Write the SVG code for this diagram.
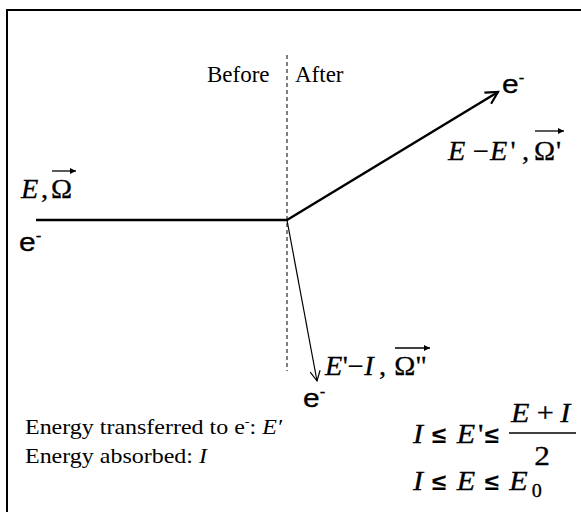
<svg xmlns="http://www.w3.org/2000/svg" width="581" height="512" viewBox="0 0 581 512">
  <style>
    .serif { font-family: "Liberation Serif", "Times New Roman", serif; fill: #000; }
    .math { font-family: "Liberation Serif", "Times New Roman", serif; font-style: italic; fill: #000; stroke: #000; stroke-width: 0.3; }
    .up { font-style: normal; }
    .rel { font-family: "Liberation Sans", Arial, sans-serif; font-style: normal; font-weight: bold; stroke-width: 0.1; }
    .sans { font-family: "Liberation Sans", Arial, sans-serif; fill: #000; stroke: #000; stroke-width: 0.3; }
    .line { stroke: #000; fill: none; }
  </style>
  <defs>
    <marker id="headBig" markerUnits="userSpaceOnUse" markerWidth="16" markerHeight="16" refX="13" refY="8" orient="auto">
      <path d="M1,1.5 L13,8 L1,14.5" fill="none" stroke="#000" stroke-width="2.2"/>
    </marker>
    <marker id="headSmall" markerUnits="userSpaceOnUse" markerWidth="14" markerHeight="14" refX="11" refY="7" orient="auto">
      <path d="M1,2 L11,7 L1,12" fill="none" stroke="#000" stroke-width="1.2"/>
    </marker>
    <marker id="vec" markerUnits="userSpaceOnUse" markerWidth="8" markerHeight="8" refX="6" refY="4" orient="auto">
      <path d="M0,1 L6,4 L0,7 Z" fill="#000"/>
    </marker>
  </defs>

  <g id="frame">
    <line class="line" x1="6" y1="10" x2="581" y2="10" stroke-width="2"/>
    <line class="line" x1="7" y1="9" x2="7" y2="512" stroke-width="2"/>
  </g>

  <g id="divider">
    <line class="line" x1="287" y1="55" x2="287" y2="371" stroke-width="1" stroke-dasharray="4,3"/>
    <text class="serif" x="207" y="82" font-size="23">Before</text>
    <text class="serif" x="295" y="82" font-size="23">After</text>
  </g>

  <g id="connectors">
    <line class="line" x1="36" y1="220" x2="288" y2="220" stroke-width="2.5"/>
    <line class="line" x1="287" y1="220" x2="498" y2="92" stroke-width="2.5" marker-end="url(#headBig)"/>
    <line class="line" x1="287" y1="220" x2="317" y2="381" stroke-width="1.2" marker-end="url(#headSmall)"/>
  </g>

  <g id="incident">
    <g transform="translate(21,198) scale(1.05,1)">
      <text class="math" x="0" y="0" font-size="27">E<tspan class="up" x="19">,</tspan><tspan class="up" x="28.6">Ω</tspan></text>
    </g>
    <line class="line" x1="52" y1="171" x2="76" y2="171" stroke-width="1.3" marker-end="url(#vec)"/>
    <g transform="translate(19,251) scale(1.2,1)">
      <text class="sans" x="0" y="0" font-size="25">e<tspan font-size="14" dy="-10">-</tspan></text>
    </g>
  </g>

  <g id="scattered">
    <g transform="translate(502,93) scale(1.2,1)">
      <text class="sans" x="0" y="0" font-size="25">e<tspan font-size="14" dy="-10">-</tspan></text>
    </g>
    <g transform="translate(448,160) scale(1.05,1)">
      <text class="math" x="0" y="0" font-size="27">E<tspan class="up" x="23.5">−</tspan><tspan x="40">E</tspan><tspan class="up" x="59.5">'</tspan><tspan class="up" x="70.5">,</tspan><tspan class="up" x="81.9">Ω</tspan><tspan class="up" x="102.9">'</tspan></text>
    </g>
    <line class="line" x1="535" y1="131" x2="564" y2="131" stroke-width="1.3" marker-end="url(#vec)"/>
  </g>

  <g id="ejected">
    <g transform="translate(325,375) scale(1.05,1)">
      <text class="math" x="0" y="0" font-size="27">E<tspan class="up" x="17">'</tspan><tspan class="up" x="21.5">−</tspan><tspan x="37.5">I</tspan><tspan class="up" x="51.5">,</tspan><tspan class="up" x="66">Ω</tspan><tspan class="up" x="86">"</tspan></text>
    </g>
    <line class="line" x1="395" y1="348" x2="430" y2="348" stroke-width="1.3" marker-end="url(#vec)"/>
    <g transform="translate(303,407) scale(1.2,1)">
      <text class="sans" x="0" y="0" font-size="25">e<tspan font-size="14" dy="-10">-</tspan></text>
    </g>
  </g>

  <g id="legend">
    <g transform="translate(25,434) scale(1.09,1)">
      <text class="serif" x="0" y="0" font-size="22">Energy transferred to e<tspan font-size="13" dy="-9">-</tspan><tspan dy="9">: </tspan><tspan font-style="italic">E′</tspan></text>
    </g>
    <g transform="translate(25,463) scale(1.09,1)">
      <text class="serif" x="0" y="0" font-size="22">Energy absorbed: <tspan font-style="italic">I</tspan></text>
    </g>
  </g>

  <g id="constraints">
    <g transform="translate(413,443) scale(1.12,1)">
      <text class="math" x="0" y="0" font-size="27">I<tspan class="rel" x="17" font-size="23">≤</tspan><tspan x="39">E</tspan><tspan class="up" x="58">'</tspan><tspan class="rel" x="64" font-size="23">≤</tspan></text>
    </g>
    <g transform="translate(511,422) scale(1.12,1)">
      <text class="math" x="0" y="0" font-size="27">E<tspan class="up" x="23">+</tspan><tspan x="44">I</tspan></text>
    </g>
    <line class="line" x1="509" y1="433" x2="576" y2="433" stroke-width="1.6"/>
    <g transform="translate(542,465) scale(1.12,1)">
      <text class="serif" x="0" y="0" font-size="28" text-anchor="middle" stroke="#000" stroke-width="0.3">2</text>
    </g>
    <g transform="translate(413,490) scale(1.12,1)">
      <text class="math" x="0" y="0" font-size="27">I<tspan class="rel" x="17" font-size="23">≤</tspan><tspan x="39">E</tspan><tspan class="rel" x="64" font-size="23">≤</tspan><tspan x="86">E</tspan><tspan class="up" x="106" dy="7" font-size="18">0</tspan></text>
    </g>
  </g>
</svg>
